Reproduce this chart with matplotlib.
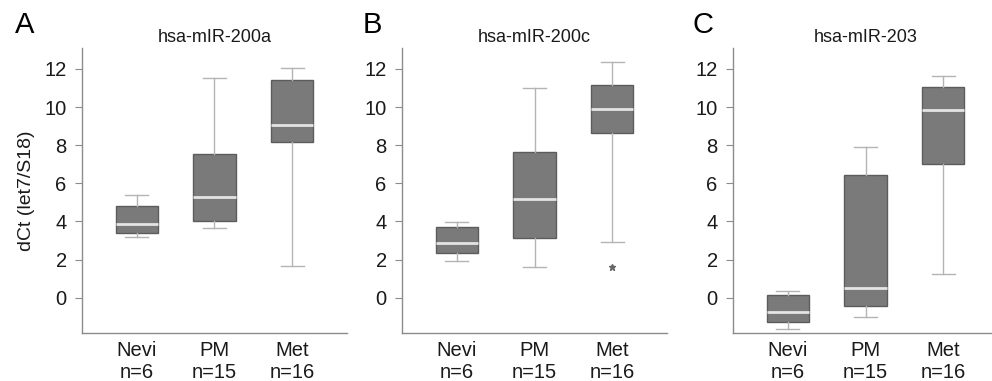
import matplotlib
matplotlib.use('Agg')
import matplotlib.pyplot as plt

plt.rcParams['font.family'] = ['Liberation Sans', 'DejaVu Sans']

groups = ['Nevi', 'PM', 'Met']
group_n = [6, 15, 16]
panels = ['A', 'B', 'C']
titles = ['hsa-mIR-200a', 'hsa-mIR-200c', 'hsa-mIR-203']
ylabel = 'dCt (let7/S18)'

# per panel: one value per group (Nevi, PM, Met)
whis_lo = [[3.18, 3.67, 1.68], [1.94, 1.59, 2.92], [-1.64, -1.01, 1.26]]
box_q1 = [[3.39, 4.00, 8.15], [2.34, 3.13, 8.65], [-1.26, -0.42, 7.01]]
box_med = [[3.88, 5.28, 9.06], [2.85, 5.17, 9.92], [-0.75, 0.49, 9.86]]
box_q3 = [[4.79, 7.53, 11.43], [3.70, 7.67, 11.16], [0.12, 6.42, 11.03]]
whis_hi = [[5.37, 11.52, 12.06], [3.97, 10.99, 12.38], [0.33, 7.92, 11.64]]
outliers = [[[], [], []], [[], [], [1.61]], [[], [], []]]

W, H = 992, 381
ax_left = [82, 402, 733]
ax_w, ax_top, ax_bot = 265, 48, 333
letter_x = [15, 363, 693]

axis_grey = '#8c8c8c'
text_col = '#1a1a1a'

fig = plt.figure(figsize=(W / 100, H / 100), dpi=100)

for i in range(3):
    ax = fig.add_axes([ax_left[i] / W, (H - ax_bot) / H, ax_w / W, (ax_bot - ax_top) / H])
    stats = []
    for j in range(3):
        stats.append({'whislo': whis_lo[i][j], 'q1': box_q1[i][j], 'med': box_med[i][j],
                      'q3': box_q3[i][j], 'whishi': whis_hi[i][j], 'fliers': outliers[i][j]})
    ax.bxp(stats, positions=[1, 2, 3], widths=0.54, patch_artist=True,
           boxprops=dict(facecolor='#7a7a7a', edgecolor='#5c5c5c', linewidth=1),
           medianprops=dict(color='#e4e4e4', linewidth=2),
           whiskerprops=dict(color='#b4b4b4', linewidth=1),
           capprops=dict(color='#b4b4b4', linewidth=1),
           capwidths=0.3,
           flierprops=dict(marker='*', markersize=5, markerfacecolor='#666666',
                           markeredgecolor='#666666', linestyle='none'))
    ax.set_xlim(0.3, 3.7)
    ax.set_ylim(-1.85, 13.1)
    ax.set_yticks([0, 2, 4, 6, 8, 10, 12])
    ax.set_xticks([1, 2, 3])
    ax.set_xticklabels(['%s\nn=%d' % (g, n) for g, n in zip(groups, group_n)],
                       linespacing=1.15)
    for s in ['top', 'right']:
        ax.spines[s].set_visible(False)
    for s in ['left', 'bottom']:
        ax.spines[s].set_color(axis_grey)
        ax.spines[s].set_linewidth(1)
    ax.tick_params(axis='y', length=5, color=axis_grey, labelsize=14.5, labelcolor=text_col, pad=6)
    ax.tick_params(axis='x', length=0, labelsize=14.5, labelcolor=text_col, pad=6)
    ax.set_title(titles[i], fontsize=13, color=text_col, pad=4)
    fig.text(letter_x[i] / W, 1 - 25 / H, panels[i], fontsize=21, va='center', ha='left')
    if i == 0:
        ax.set_ylabel(ylabel, fontsize=14, color=text_col, labelpad=7)

plt.savefig('out.png', dpi=100)
